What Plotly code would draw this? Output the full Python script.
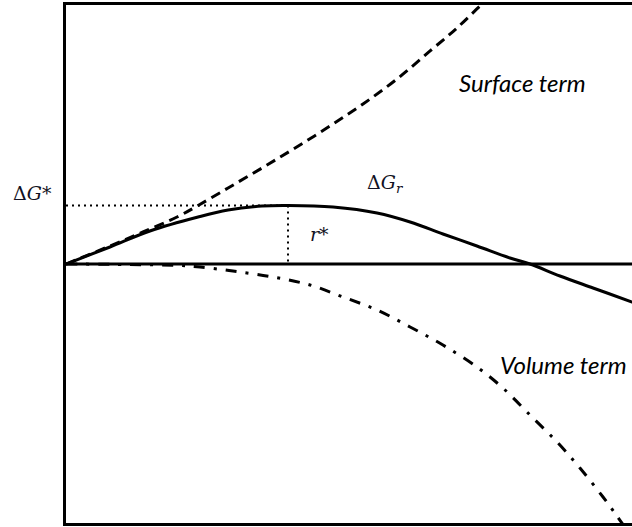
import plotly.graph_objects as go

# Values in units of r/r* (x) and ΔG/ΔG* (y)
surf_r = [0, 0.198, 0.347, 0.5, 0.595, 0.730, 0.883, 1.032, 1.189, 1.338, 1.491, 1.640, 1.761, 1.865, 1.910]
surf_g = [0, 0.308, 0.547, 0.803, 1.0, 1.299, 1.641, 1.983, 2.359, 2.735, 3.162, 3.641, 4.034, 4.410, 4.564]

total_r = [0, 0.198, 0.378, 0.595, 0.730, 0.883, 1.0, 1.203, 1.401, 1.550, 1.698, 1.851, 2.0, 2.090, 2.225, 2.374, 2.550, 2.608]
total_g = [0, 0.291, 0.564, 0.803, 0.923, 0.991, 1.0, 0.974, 0.872, 0.718, 0.513, 0.308, 0.103, 0, -0.205, -0.410, -0.650, -0.735]

vol_r = [0, 0.288, 0.514, 0.604, 0.752, 0.932, 1.099, 1.248, 1.401, 1.550, 1.698, 1.851, 1.968, 2.090, 2.212, 2.315, 2.419, 2.482, 2.532]
vol_g = [0, -0.009, -0.026, -0.051, -0.120, -0.222, -0.359, -0.564, -0.786, -1.077, -1.385, -1.761, -2.120, -2.581, -3.043, -3.487, -3.983, -4.308, -4.581]

r_star = 1.0
g_star = 1.0
x_max = 2.5495
y_lim = 4.427

fig = go.Figure()

# zero line
fig.add_trace(go.Scatter(x=[0, x_max], y=[0, 0], mode="lines",
                         line=dict(color="black", width=3)))
# dotted guides
fig.add_trace(go.Scatter(x=[0, r_star], y=[g_star, g_star], mode="lines",
                         line=dict(color="black", width=2, dash="2px,4px")))
fig.add_trace(go.Scatter(x=[r_star, r_star], y=[g_star, 0], mode="lines",
                         line=dict(color="black", width=2, dash="2px,4px")))
# surface term
fig.add_trace(go.Scatter(x=surf_r, y=surf_g, mode="lines", line_shape="spline",
                         line=dict(color="black", width=3, dash="10px,6px")))
# volume term
fig.add_trace(go.Scatter(x=vol_r, y=vol_g, mode="lines", line_shape="spline",
                         line=dict(color="black", width=3, dash="11px,9px,3px,9px")))
# total
fig.add_trace(go.Scatter(x=total_r, y=total_g, mode="lines", line_shape="spline",
                         line=dict(color="black", width=3)))

sans = "Lato"
serif = "DejaVu Serif"
ann = [
    dict(x=2.054, y=3.094, xref="x", text="<i>Surface term</i>", font=dict(family=sans, size=24, color="black")),
    dict(x=2.243, y=-1.726, xref="x", text="<i>Volume term</i>", font=dict(family=sans, size=24, color="black")),
    dict(x=-0.060, y=1.214, xref="paper", text="Δ<i>G</i>*", font=dict(family=serif, size=19, color="#111122")),
    dict(x=1.437, y=1.37, xref="x", text="Δ<i>G<sub>r</sub></i>", font=dict(family=serif, size=19, color="#111122")),
    dict(x=1.140, y=0.513, xref="x", text="<i>r</i>*", font=dict(family=serif, size=19, color="#111122")),
]
for a in ann:
    a.update(yref="y", showarrow=False, xanchor="center", yanchor="middle")

fig.update_layout(
    width=632, height=527,
    margin=dict(l=66, r=0, t=5, b=4),
    paper_bgcolor="white", plot_bgcolor="white",
    showlegend=False,
    annotations=ann,
    xaxis=dict(range=[0, x_max], showgrid=False, zeroline=False, showticklabels=False,
               ticks="", showline=True, mirror=True, linecolor="black", linewidth=3),
    yaxis=dict(range=[-y_lim, y_lim], showgrid=False, zeroline=False, showticklabels=False,
               ticks="", showline=True, mirror=False, linecolor="black", linewidth=3),
)

fig.write_html("out.html")
